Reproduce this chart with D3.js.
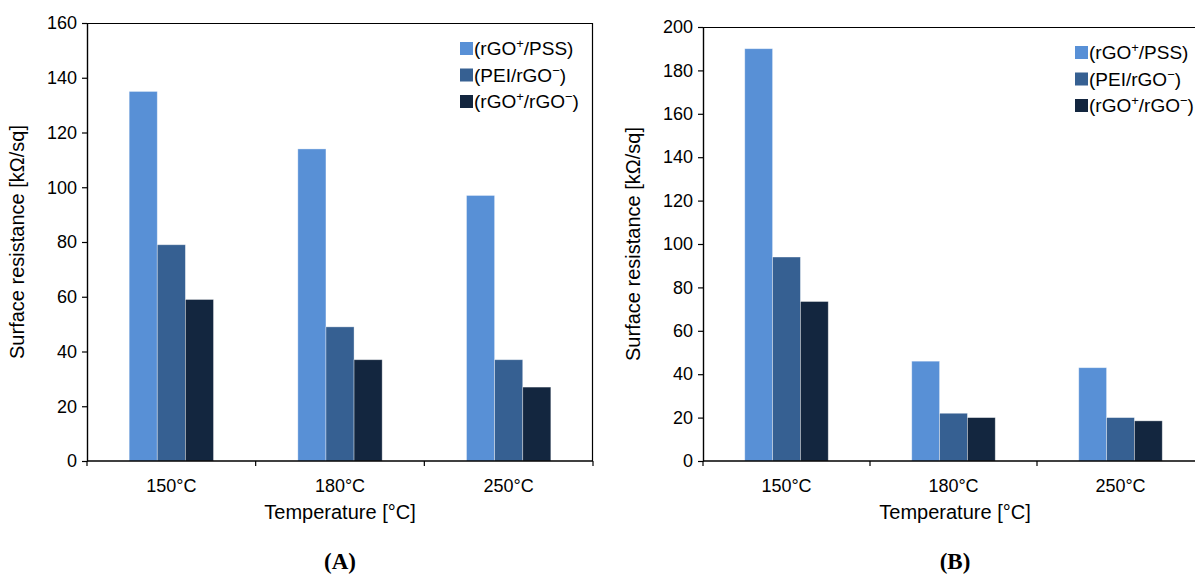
<!DOCTYPE html>
<html>
<head>
<meta charset="utf-8">
<script src="https://cdn.jsdelivr.net/npm/d3@7"></script>
<style>
  html, body { margin: 0; padding: 0; background: #fff; }
  svg { display: block; font-family: "Liberation Sans", Arial, sans-serif; }
</style>
</head>
<body>
<svg id="chart" width="1195" height="576"></svg>
<script>
const categories = ["150°C", "180°C", "250°C"];
const seriesNames = ["(rGO+/PSS)", "(PEI/rGO−)", "(rGO+/rGO−)"];
const seriesColors = ["#5890d6", "#366092", "#13263f"];
const valuesA_rGOpPSS = [135, 114, 97];
const valuesA_PEIrGOm = [79, 49, 37];
const valuesA_rGOprGOm = [59, 37, 27];
const valuesB_rGOpPSS = [190, 46, 43];
const valuesB_PEIrGOm = [94, 22, 20];
const valuesB_rGOprGOm = [73.5, 20, 18.5];
const yTicksA = [0, 20, 40, 60, 80, 100, 120, 140, 160];
const yTicksB = [0, 20, 40, 60, 80, 100, 120, 140, 160, 180, 200];
const yTitle = "Surface resistance [kΩ/sq]";
const xTitle = "Temperature [°C]";

const svg = d3.select("#chart");

// legend label parts: [text, superscript?]
const legendParts = [
  [["(rGO", false], ["+", true], ["/PSS)", false]],
  [["(PEI/rGO", false], ["−", true], [")", false]],
  [["(rGO", false], ["+", true], ["/rGO", false], ["−", true], [")", false]]
];

function drawPanel(cfg) {
  const g = svg.append("g");
  const x = d3.scaleBand().domain(categories).range([cfg.left, cfg.left + cfg.width]).paddingInner(0).paddingOuter(0);
  const xs = d3.scaleBand().domain(seriesNames).range([0, x.bandwidth()]).paddingInner(0).paddingOuter(1.5);
  const y = d3.scaleLinear().domain([0, cfg.yMax]).range([cfg.bottom, cfg.top]);

  // frame (top and right)
  g.append("line").attr("x1", cfg.left).attr("x2", cfg.left + cfg.width)
    .attr("y1", cfg.top + 0.5).attr("y2", cfg.top + 0.5).attr("stroke", "#000").attr("stroke-width", 1.2);
  g.append("line").attr("x1", cfg.left + cfg.width - 0.5).attr("x2", cfg.left + cfg.width - 0.5)
    .attr("y1", cfg.top).attr("y2", cfg.bottom).attr("stroke", "#000").attr("stroke-width", 1.2);

  // bars
  cfg.series.forEach((vals, si) => {
    g.append("g").selectAll("rect").data(vals).join("rect")
      .attr("x", (d, i) => x(categories[i]) + xs(seriesNames[si]))
      .attr("y", d => y(d))
      .attr("width", xs.bandwidth())
      .attr("height", d => cfg.bottom - y(d))
      .attr("fill", seriesColors[si])
      .attr("stroke", "rgba(255,255,255,0.45)")
      .attr("stroke-width", 0.8);
  });

  // y axis
  const yAxis = d3.axisLeft(y).tickValues(cfg.yTicks).tickSize(5).tickSizeOuter(0).tickPadding(5);
  const ya = g.append("g").attr("transform", `translate(${cfg.left},0)`).call(yAxis);
  ya.select(".domain").attr("stroke-width", 1.4);
  ya.selectAll(".tick line").attr("stroke-width", 1.2);
  ya.selectAll("text").attr("font-size", 18).attr("fill", "#000").attr("font-family", "Liberation Sans, Arial, sans-serif");

  // x axis line
  g.append("line").attr("x1", cfg.left).attr("x2", cfg.left + cfg.width)
    .attr("y1", cfg.bottom).attr("y2", cfg.bottom).attr("stroke", "#000").attr("stroke-width", 1.6);
  // x ticks at category boundaries
  const bounds = categories.map(c => x(c)).concat([cfg.left + cfg.width]);
  g.append("g").selectAll("line").data(bounds).join("line")
    .attr("x1", d => d).attr("x2", d => d)
    .attr("y1", cfg.bottom).attr("y2", cfg.bottom + 5)
    .attr("stroke", "#000").attr("stroke-width", 1.2);
  // x labels
  g.append("g").selectAll("text").data(categories).join("text")
    .attr("x", d => x(d) + x.bandwidth() / 2)
    .attr("y", cfg.bottom + 31)
    .attr("text-anchor", "middle").attr("font-size", 18).attr("fill", "#000")
    .text(d => d);

  // axis titles
  g.append("text").attr("x", cfg.xTitleX).attr("y", cfg.bottom + 58)
    .attr("text-anchor", "middle").attr("font-size", 20).attr("fill", "#000").text(xTitle);
  g.append("text")
    .attr("transform", `translate(${cfg.yTitleX},${(cfg.top + cfg.bottom) / 2}) rotate(-90)`)
    .attr("text-anchor", "middle").attr("font-size", 20).attr("fill", "#000").text(yTitle);

  // legend
  const lg = g.append("g");
  seriesNames.forEach((s, i) => {
    const ly = cfg.legendY + i * 26.5;
    lg.append("rect").attr("x", cfg.legendX).attr("y", ly - 6).attr("width", 13).attr("height", 13)
      .attr("fill", seriesColors[i]);
    const t = lg.append("text").attr("x", cfg.legendX + 14).attr("y", ly + 7)
      .attr("font-size", 19).attr("fill", "#000");
    let raised = false;
    legendParts[i].forEach(([txt, sup]) => {
      const ts = t.append("tspan").text(txt);
      if (sup) { ts.attr("dy", -7).attr("font-size", 13); raised = true; }
      else if (raised) { ts.attr("dy", 7); raised = false; }
    });
  });

  // panel label
  g.append("text").attr("x", cfg.xTitleX).attr("y", 569)
    .attr("text-anchor", "middle").attr("font-size", 23).attr("font-weight", "bold")
    .attr("font-family", "Liberation Serif, 'Times New Roman', serif").attr("fill", "#000")
    .text(cfg.label);
}

drawPanel({
  left: 87, width: 506, top: 23, bottom: 461, yMax: 160, yTicks: yTicksA,
  series: [valuesA_rGOpPSS, valuesA_PEIrGOm, valuesA_rGOprGOm],
  legendX: 460, legendY: 48, xTitleX: 340, yTitleX: 24, label: "(A)"
});
drawPanel({
  left: 703, width: 501, top: 27, bottom: 461, yMax: 200, yTicks: yTicksB,
  series: [valuesB_rGOpPSS, valuesB_PEIrGOm, valuesB_rGOprGOm],
  legendX: 1075, legendY: 52, xTitleX: 955, yTitleX: 640, label: "(B)"
});
</script>
</body>
</html>
